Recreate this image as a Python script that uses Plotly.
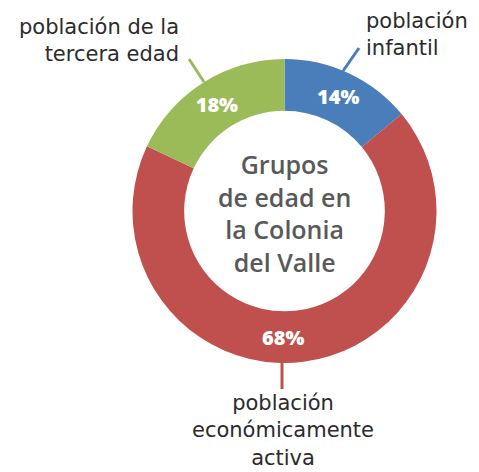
import plotly.graph_objects as go

# Age groups of Colonia del Valle population (percent)
groups = ["población infantil", "población económicamente activa", "población de la tercera edad"]
shares = [14, 68, 18]
colors = ["#4A7EBB", "#C0504D", "#9BBB59"]

W, H = 479, 472
cx, cy, r = 284.5, 211, 152  # pie centre and radius in pixels
hole = 0.66

def px(x):
    return x / W

def py(y):
    return 1 - y / H

# The large slice's value label sits at the bottom of the ring rather than
# at its mid-angle, so it is drawn as an annotation.
slice_text = [f"{v}%" if v != max(shares) else "" for v in shares]

fig = go.Figure(go.Pie(
    labels=groups,
    values=shares,
    sort=False,
    direction="clockwise",
    rotation=0,
    hole=hole,
    marker=dict(colors=colors, line=dict(color="white", width=0)),
    text=slice_text,
    textinfo="text",
    textposition="inside",
    insidetextorientation="horizontal",
    textfont=dict(family="Open Sans", size=20, color="white", weight=800),
    hoverinfo="label+percent",
    domain=dict(x=[px(cx - r), px(cx + r)], y=[py(cy + r), py(cy - r)]),
    showlegend=False,
))

label_font = dict(family="DejaVu Sans", size=21, color="#2b2b2b")
ring_mid = r * (1 + hole) / 2

annotations = [
    dict(x=px(cx - 2), y=py(cy + ring_mid), text=f"{max(shares)}%",
         font=dict(family="Open Sans", size=20, color="white", weight=800),
         showarrow=False, xanchor="center", yanchor="middle"),
    dict(x=px(cx), y=py(cy + 2), text="Grupos<br>de edad en<br>la Colonia<br>del Valle",
         font=dict(family="Open Sans", size=25, color="#595959", weight=600), showarrow=False,
         xanchor="center", yanchor="middle", align="center"),
    dict(x=px(181), y=py(40), text="población de la<br>tercera edad", font=label_font,
         showarrow=False, xanchor="right", yanchor="middle", align="right"),
    dict(x=px(364), y=py(34), text="población<br>infantil", font=label_font,
         showarrow=False, xanchor="left", yanchor="middle", align="left"),
    dict(x=px(283), y=py(430), text="población<br>económicamente<br>activa", font=label_font,
         showarrow=False, xanchor="center", yanchor="middle", align="center"),
]

# Leader lines from each outer label to its slice
leaders = [
    ((189, 59), (204, 82), colors[2]),
    ((359, 48), (343, 71), colors[0]),
    ((282, 362), (282, 389), colors[1]),
]
shapes = [
    dict(type="line", xref="paper", yref="paper",
         x0=px(a[0]), y0=py(a[1]), x1=px(b[0]), y1=py(b[1]),
         line=dict(color=c, width=3))
    for a, b, c in leaders
]

fig.update_layout(
    width=W, height=H,
    margin=dict(l=0, r=0, t=0, b=0),
    paper_bgcolor="white",
    plot_bgcolor="white",
    annotations=annotations,
    shapes=shapes,
)

fig.write_html("out.html")
